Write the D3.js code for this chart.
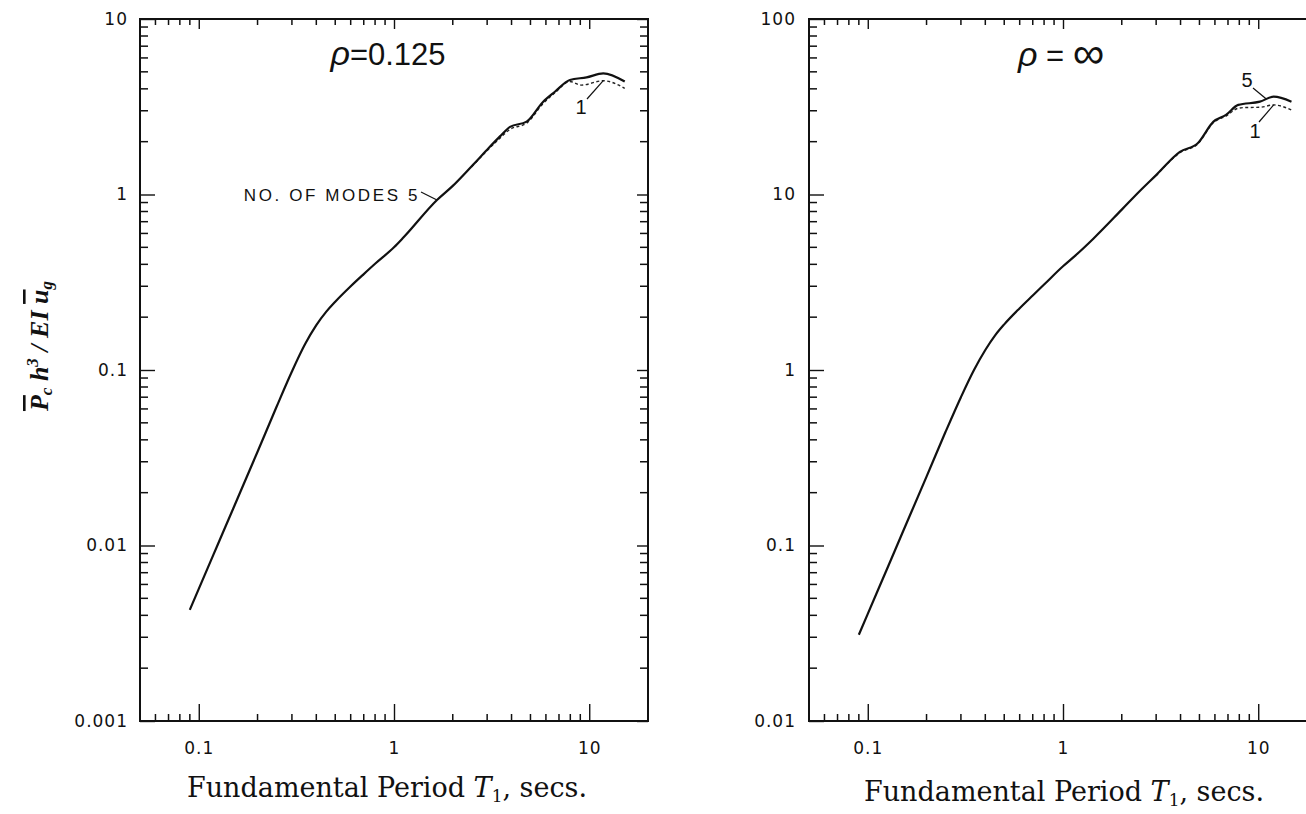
<!DOCTYPE html>
<html>
<head>
<meta charset="utf-8">
<script src="https://cdn.jsdelivr.net/npm/d3@7"></script>
<style>
  body { margin: 0; background: #fff; }
  svg text { fill: #111; }
</style>
</head>
<body>
<svg id="chart" width="1306" height="814"></svg>
<script>
// tick values / labels
const xTicks = [0.1, 1, 10];
const xTickLabels = ["0.1", "1", "10"];
const yTicksLeft = [0.001, 0.01, 0.1, 1, 10];
const yLabelsLeft = ["0.001", "0.01", "0.1", "1", "10"];
const yTicksRight = [0.01, 0.1, 1, 10, 100];
const yLabelsRight = ["0.01", "0.1", "1", "10", "100"];

// rho = 0.125, 5 modes (solid)
const leftPeriods = [0.09, 0.1, 0.125, 0.15, 0.2, 0.25, 0.3, 0.35, 0.4, 0.45, 0.5, 0.6, 0.7, 0.8, 1.0, 1.12, 1.66, 2.0, 2.5, 3.0, 3.5, 3.93, 4.78, 5.81, 6.67, 7.96, 9.69, 11.8, 15.2];
const leftModes5 = [0.0043, 0.00566, 0.0101, 0.0162, 0.0342, 0.0615, 0.098, 0.14, 0.18, 0.215, 0.245, 0.3, 0.352, 0.403, 0.5, 0.57, 0.93, 1.12, 1.45, 1.8, 2.15, 2.43, 2.6, 3.38, 3.85, 4.49, 4.65, 4.9, 4.4];
// rho = 0.125, 1 mode (dashed)
const leftPeriods1 = [2.5, 3.0, 3.5, 3.93, 4.78, 5.81, 6.67, 7.96, 9.1, 11.8, 15.2];
const leftModes1 = [1.44, 1.78, 2.1, 2.35, 2.55, 3.3, 3.8, 4.4, 4.2, 4.45, 4.03];

// rho = infinity, 5 modes (solid)
const rightPeriods = [0.09, 0.1, 0.125, 0.15, 0.2, 0.25, 0.3, 0.35, 0.4, 0.45, 0.5, 0.6, 0.7, 0.8, 1.0, 1.16, 1.43, 2.0, 2.46, 3.0, 3.97, 4.9, 5.9, 6.84, 7.9, 10.2, 12.0, 14.8];
const rightModes5 = [0.031, 0.0408, 0.0728, 0.117, 0.247, 0.443, 0.7, 1.0, 1.3, 1.58, 1.82, 2.25, 2.66, 3.07, 3.9, 4.5, 5.6, 8.2, 10.4, 12.9, 17.5, 19.6, 26, 28.4, 32.4, 33.8, 36.1, 33.8];
// rho = infinity, 1 mode (dashed)
const rightPeriods1 = [3.0, 3.97, 4.9, 5.9, 6.84, 7.9, 8.6, 10.2, 12.0, 14.8];
const rightModes1 = [12.8, 17.3, 19.4, 25.7, 28.0, 31.0, 31.3, 31.4, 32.4, 30.3];

const svg = d3.select("#chart");

// 2..9 multiples of each decade inside [lo, hi]
function minorTicks(lo, hi) {
  const out = [];
  for (let e = -4; e <= 3; e++) {
    for (let k = 2; k <= 9; k++) {
      const v = +(k * Math.pow(10, e)).toPrecision(6);
      if (v >= lo && v <= hi) out.push(v);
    }
  }
  return out;
}

function drawPanel(opt) {
  const x = d3.scaleLog().domain([0.05, 20]).range([opt.left, opt.left + 508]);
  const y = d3.scaleLog().domain(opt.yDomain).range([721, 19]);
  const g = svg.append("g");
  const x0 = opt.left, x1 = opt.left + 508, y0 = 721, y1 = 19;

  const xMinor = minorTicks(0.05, 20);
  const yMinor = minorTicks(opt.yDomain[0], opt.yDomain[1]);

  const tickStyle = sel => {
    sel.select(".domain").remove();
    sel.selectAll(".tick line").attr("stroke", "#111").attr("stroke-width", 1.4);
    sel.selectAll(".tick text")
      .attr("font-family", "DejaVu Sans, sans-serif")
      .attr("font-size", 17)
      .attr("letter-spacing", 1)
      .attr("fill", "#111");
  };

  // major ticks + labels
  g.append("g").attr("transform", `translate(0,${y0})`)
    .call(d3.axisBottom(x).tickValues(xTicks).tickFormat((d, i) => xTickLabels[i]).tickSize(-17).tickPadding(21))
    .call(tickStyle);
  g.append("g").attr("transform", `translate(0,${y1})`)
    .call(d3.axisTop(x).tickValues(xTicks).tickFormat(() => "").tickSize(-10))
    .call(tickStyle);
  g.append("g").attr("transform", `translate(${x0},0)`)
    .call(d3.axisLeft(y).tickValues(opt.yTicks).tickFormat((d, i) => opt.yLabels[i]).tickSize(-15).tickPadding(opt.labelPad))
    .call(tickStyle);
  g.append("g").attr("transform", `translate(${x1},0)`)
    .call(d3.axisRight(y).tickValues(opt.yTicks).tickFormat(() => "").tickSize(-11))
    .call(tickStyle);

  // minor ticks on all four sides
  const minor = g.append("g").attr("stroke", "#111").attr("stroke-width", 1.5);
  minor.append("g").selectAll("line").data(xMinor).join("line")
    .attr("x1", d => x(d)).attr("x2", d => x(d))
    .attr("y1", y0).attr("y2", y0 - 7);
  minor.append("g").selectAll("line").data(xMinor).join("line")
    .attr("x1", d => x(d)).attr("x2", d => x(d))
    .attr("y1", y1).attr("y2", y1 + 6);
  minor.append("g").selectAll("line").data(yMinor).join("line")
    .attr("x1", x0).attr("x2", x0 + 8)
    .attr("y1", d => y(d)).attr("y2", d => y(d));
  minor.append("g").selectAll("line").data(yMinor).join("line")
    .attr("x1", x1).attr("x2", x1 - 8)
    .attr("y1", d => y(d)).attr("y2", d => y(d));

  // frame
  g.append("rect")
    .attr("x", x0).attr("y", y1)
    .attr("width", 508).attr("height", y0 - y1)
    .attr("fill", "none").attr("stroke", "#111").attr("stroke-width", 2);

  const line = d3.line()
    .x(d => x(d[0])).y(d => y(d[1]))
    .curve(d3.curveMonotoneX);

  g.append("path")
    .datum(d3.zip(opt.t1, opt.v1))
    .attr("d", line)
    .attr("fill", "none").attr("stroke", "#222")
    .attr("stroke-width", 1.4).attr("stroke-dasharray", "3,2.5");

  g.append("path")
    .datum(d3.zip(opt.t5, opt.v5))
    .attr("d", line)
    .attr("fill", "none").attr("stroke", "#111")
    .attr("stroke-width", 2.2).attr("stroke-linejoin", "round");

  // x axis title
  const title = g.append("text")
    .attr("x", opt.titleX).attr("y", opt.titleY)
    .attr("text-anchor", "middle")
    .attr("font-family", "DejaVu Serif, Liberation Serif, serif")
    .attr("font-size", 27);
  title.append("tspan").text("Fundamental Period ");
  title.append("tspan").attr("font-style", "italic").text("T");
  title.append("tspan").attr("font-size", 17).attr("dy", 5).text("1");
  title.append("tspan").attr("dy", -5).text(", secs.");

  return { x, y, g };
}

const L = drawPanel({
  left: 140, yDomain: [0.001, 10], yTicks: yTicksLeft, yLabels: yLabelsLeft, labelPad: 12,
  t5: leftPeriods, v5: leftModes5, t1: leftPeriods1, v1: leftModes1,
  titleX: 387, titleY: 797
});
const R = drawPanel({
  left: 809, yDomain: [0.01, 100], yTicks: yTicksRight, yLabels: yLabelsRight, labelPad: 13,
  t5: rightPeriods, v5: rightModes5, t1: rightPeriods1, v1: rightModes1,
  titleX: 1064, titleY: 801
});

// rho labels
function rhoLabel(g, cx, cy, value, big) {
  const t = g.append("text")
    .attr("x", cx).attr("y", cy)
    .attr("text-anchor", "middle")
    .attr("font-family", "Liberation Sans, Arial, sans-serif")
    .attr("font-size", 31);
  t.append("tspan").attr("font-style", "italic").attr("font-size", 34).text("ρ");
  t.append("tspan").text(value);
  if (big) t.append("tspan").attr("font-size", 44).attr("dy", 2).text(big);
}
rhoLabel(L.g, 388, 65, "=0.125");
rhoLabel(R.g, 1061, 66, " = ", "∞");

// annotations
const annFont = "Liberation Sans, Arial, sans-serif";
L.g.append("text")
  .attr("x", 420).attr("y", 201)
  .attr("text-anchor", "end")
  .attr("font-family", annFont).attr("font-size", 17)
  .attr("letter-spacing", 2.6)
  .text("NO. OF MODES 5");
L.g.append("line")
  .attr("x1", 421).attr("y1", 192)
  .attr("x2", L.x(1.66)).attr("y2", L.y(0.93))
  .attr("stroke", "#111").attr("stroke-width", 1.2);

L.g.append("text")
  .attr("x", 581).attr("y", 114)
  .attr("text-anchor", "middle")
  .attr("font-family", annFont).attr("font-size", 20)
  .text("1");
L.g.append("line")
  .attr("x1", 587).attr("y1", 99)
  .attr("x2", L.x(11.8)).attr("y2", L.y(4.45))
  .attr("stroke", "#111").attr("stroke-width", 1.2);

R.g.append("text")
  .attr("x", 1247).attr("y", 87)
  .attr("text-anchor", "middle")
  .attr("font-family", annFont).attr("font-size", 20)
  .text("5");
R.g.append("line")
  .attr("x1", 1253).attr("y1", 88)
  .attr("x2", R.x(11)).attr("y2", R.y(35))
  .attr("stroke", "#111").attr("stroke-width", 1.2);

R.g.append("text")
  .attr("x", 1255).attr("y", 138)
  .attr("text-anchor", "middle")
  .attr("font-family", annFont).attr("font-size", 20)
  .text("1");
R.g.append("line")
  .attr("x1", 1259).attr("y1", 122)
  .attr("x2", R.x(12)).attr("y2", R.y(32.4))
  .attr("stroke", "#111").attr("stroke-width", 1.2);

// y axis title (rotated)
const yt = svg.append("text")
  .attr("transform", "translate(48,346) rotate(-90)")
  .attr("text-anchor", "middle")
  .attr("font-family", "Liberation Serif, Times New Roman, serif")
  .attr("font-size", 26)
  .attr("font-weight", "bold")
  .attr("font-style", "italic");
yt.append("tspan").style("text-decoration", "overline").text("P");
yt.append("tspan").attr("font-size", 17).attr("dy", 4).text("c");
yt.append("tspan").attr("dy", -4).text(" h");
yt.append("tspan").attr("font-size", 17).attr("dy", -10).text("3");
yt.append("tspan").attr("dy", 10).text(" / EI ");
yt.append("tspan").style("text-decoration", "overline").text("u");
yt.append("tspan").attr("font-size", 17).attr("dy", 4).text("g");
</script>
</body>
</html>
